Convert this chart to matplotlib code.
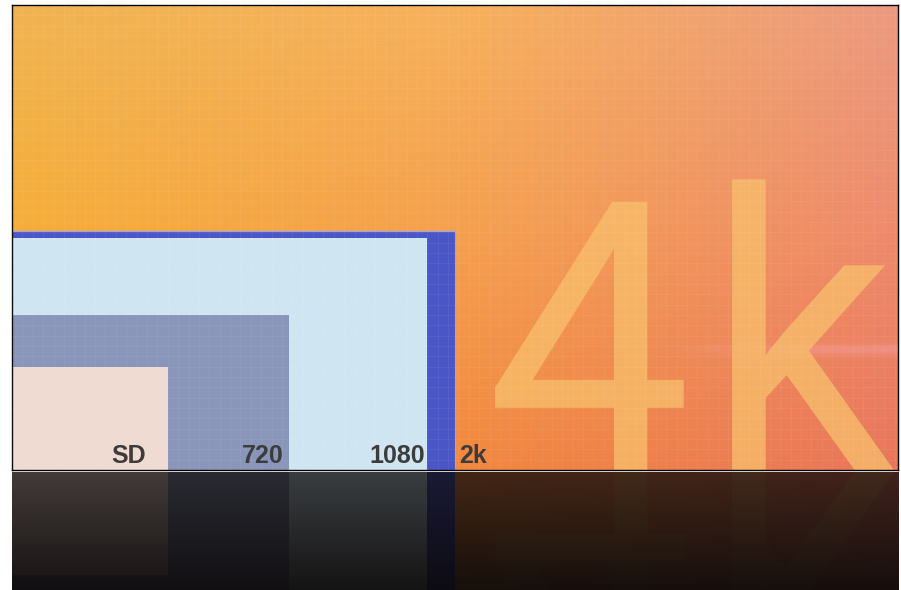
import numpy as np
import matplotlib
matplotlib.use("Agg")
import matplotlib.pyplot as plt
from matplotlib.colors import to_rgb
from matplotlib.font_manager import FontProperties
from matplotlib.patches import PathPatch
from matplotlib.path import Path
from matplotlib.textpath import TextPath
from matplotlib.transforms import Affine2D

# resolution frames (pixels), drawn nested from the bottom-left corner
formats = ["SD", "720", "1080", "2k"]
frame_w = [720, 1280, 1920, 2048]
frame_h = [480, 720, 1080, 1108]
uhd_w, uhd_h = 4096, 2160
uhd_glyphs = ["4", "k"]

frame_colors = ["#f0dbd3", "#8996ba", "#cfe6f2", "#4a55c6"]
label_pad = [101, 23, 11, -19]          # label distance from right edge of frame
label_ha = ["right", "right", "right", "left"]

# big "4k" glyph placement (data units): left edge, font size
glyph_left = [2233, 3329]
glyph_size = [1751, 1800]
glyph_xscale = [0.97, 0.95]

# background colour knots (rows: top / middle / bottom, cols: left / centre / right)
bg_knots = [
    ["#f0b452", "#f7b15c", "#ec9a80"],
    ["#f6ae38", "#f5a04e", "#ee8a6c"],
    ["#f6a030", "#f2883e", "#e9765c"],
]


def _background(rows, w, h):
    cols = np.array([[to_rgb(c) for c in row] for row in rows])
    xs = np.linspace(0, 1, w)
    ys = np.linspace(0, 1, h)
    rowimg = np.empty((3, w, 3))
    for r in range(3):
        for k in range(3):
            rowimg[r, :, k] = np.interp(xs, [0, 0.5, 1], cols[r, :, k])
    f0 = np.clip(ys / 0.5, 0, 1)[:, None, None]
    f1 = np.clip((ys - 0.5) / 0.5, 0, 1)[:, None, None]
    img = np.where(ys[:, None, None] <= 0.5,
                   rowimg[0] * (1 - f0) + rowimg[1] * f0,
                   rowimg[1] * (1 - f1) + rowimg[2] * f1)
    # faint pink lens streak on the right
    streak = np.exp(-((ys - 0.742) / 0.012) ** 2)[:, None] * np.clip((xs - 0.72) / 0.2, 0, 1)[None, :]
    pink = np.array(to_rgb("#f4a2a4"))
    img = img * (1 - 0.45 * streak[..., None]) + pink * 0.45 * streak[..., None]
    return img


def _glyph_paths(prop):
    paths = []
    for g, left, size, sx in zip(uhd_glyphs, glyph_left, glyph_size, glyph_xscale):
        p = TextPath((0, 0), g, size=size, prop=prop)
        real = p.codes != Path.CLOSEPOLY if p.codes is not None else slice(None)
        xmin = p.vertices[real, 0].min()
        tr = Affine2D().translate(-xmin, 0).scale(sx, 1.0).translate(left, 0)
        paths.append(tr.transform_path(p))
    return paths


fig = plt.figure(figsize=(9.01, 5.90), dpi=100)
fig.patch.set_facecolor("white")

ax = fig.add_axes([12 / 901, 120 / 590, 886 / 901, 465 / 590])
ax.set_xlim(0, uhd_w)
ax.set_ylim(0, uhd_h)

bg = _background(bg_knots, 886, 465)
ax.imshow(bg, extent=(0, uhd_w, 0, uhd_h), origin="upper", aspect="auto", zorder=0)

glyphs = _glyph_paths(FontProperties(family="Roboto"))
for gp in glyphs:
    ax.add_patch(PathPatch(gp, facecolor="#f8c06c", edgecolor="none", alpha=0.75, zorder=1))

for i in reversed(range(len(formats))):
    ax.bar(0, frame_h[i], width=frame_w[i], align="edge", color=frame_colors[i],
           edgecolor="#9aa6e2" if formats[i] == "2k" else "none", linewidth=0.8, zorder=2)

for i, name in enumerate(formats):
    ax.text(frame_w[i] - label_pad[i], 33, name, ha=label_ha[i], va="baseline",
            fontsize=18, fontweight="bold", color="#3c3c3c",
            family=["Liberation Sans", "DejaVu Sans"], zorder=4)

ax.set_xticks([])
ax.set_yticks([])
ax.set_xticks(np.arange(0, uhd_w, 48), minor=True)
ax.set_yticks(np.arange(0, uhd_h, 48), minor=True)
ax.tick_params(which="both", length=0)
ax.set_axisbelow(False)
ax.grid(which="minor", color="white", alpha=0.08, linewidth=0.5)
for sp in ax.spines.values():
    sp.set_color("black")
    sp.set_linewidth(1.0)

# mirrored reflection below the frame
rax = fig.add_axes([12 / 901, 0, 886 / 901, 118 / 590])
refl_h = 118 / (465 / uhd_h)
rax.imshow(bg, extent=(0, uhd_w, 0, uhd_h), origin="upper", aspect="auto", zorder=0)
for gp in glyphs:
    rax.add_patch(PathPatch(gp, facecolor="#f8c06c", edgecolor="none", alpha=0.35, zorder=1))
for i in reversed(range(len(formats))):
    rax.bar(0, frame_h[i], width=frame_w[i], align="edge", color=frame_colors[i],
            edgecolor="none", zorder=2)

shade = np.zeros((118, 1, 4))
shade[..., 3] = np.linspace(0.76, 0.95, 118)[:, None]
shade[..., 0] = 0.04
shade[..., 1] = 0.03
shade[..., 2] = 0.03
rax.imshow(shade, extent=(0, uhd_w, refl_h, 0), aspect="auto", zorder=3)
rax.set_xlim(0, uhd_w)
rax.set_ylim(refl_h, 0)
rax.axis("off")

fig.savefig("out.png", dpi=100, facecolor="white")
